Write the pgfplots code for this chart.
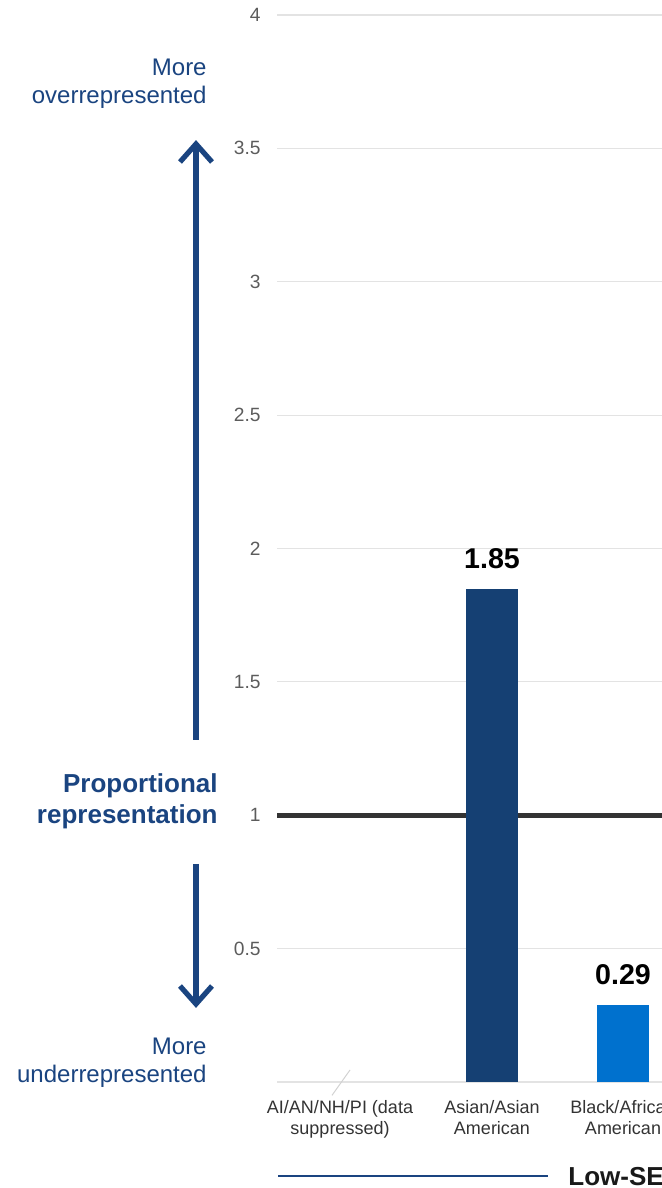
\documentclass[border=0pt]{standalone}
\usepackage{fontspec}
\setmainfont{Liberation Sans}
\usepackage{pgfplots}
\pgfplotsset{compat=1.18}

\definecolor{navy}{HTML}{154073}
\definecolor{brightblue}{HTML}{0071CE}
\definecolor{annot}{HTML}{1A4480}
\definecolor{tickgray}{HTML}{5C5C5C}
\definecolor{labgray}{HTML}{333333}
\definecolor{gridgray}{HTML}{E3E3E3}
\definecolor{refline}{HTML}{333333}

\begin{document}
\begin{tikzpicture}
% frame: 331pt x 594pt
\useasboundingbox (0,0) rectangle (331pt,594pt);
\clip (0,0) rectangle (331pt,594pt);

\begin{axis}[
  at={(138.5pt,53pt)}, anchor=south west,
  scale only axis,
  width=500pt, height=533.5pt,
  xmin=277, xmax=1277,
  ymin=0, ymax=4,
  clip=false,
  axis line style={draw=none},
  major tick length=0pt,
  ymajorgrids,
  grid style={gridgray, line width=0.6pt},
  ytick={0,0.5,1.5,2,2.5,3,3.5,4},
  yticklabels={,0.5,1.5,2,2.5,3,3.5,4},
  extra y ticks={1},
  extra y tick labels={1},
  extra y tick style={grid style={refline, line width=2.3pt}},
  yticklabel style={font=\fontsize{9.6}{11}\selectfont, text=tickgray, inner sep=0pt, anchor=east, xshift=-8pt},
  xtick={340,492,623},
  xticklabels={AI/AN/NH/PI (data\\suppressed), Asian/Asian\\American, Black/African\\American},
  xticklabel style={font=\fontsize{9}{10.5}\selectfont, text=labgray, align=center, inner sep=0pt, anchor=north, yshift=-9pt},
  ybar, bar width=26pt,
  nodes near coords,
  nodes near coords style={font=\bfseries\fontsize{14.3}{16}\selectfont, text=black, anchor=center, yshift=15pt,
    /pgf/number format/.cd, fixed, zerofill, precision=2, assume math mode=true},
]
\addplot[fill=navy, draw=none, bar shift=0pt] coordinates {(492,1.85)};
\addplot[fill=brightblue, draw=none, bar shift=0pt] coordinates {(623,0.29)};
% data suppressed marker
\draw[gray!35, line width=0.5pt] (axis cs:350,0.045) -- (axis cs:332,-0.05);
\end{axis}

% direction arrows
\draw[annot, line width=2.6pt] (98pt,224pt) -- (98pt,522pt);
\draw[annot, line width=2.6pt, line join=miter] (90pt,513pt) -- (98pt,522pt) -- (106pt,513pt);
\draw[annot, line width=2.6pt] (98pt,162pt) -- (98pt,92pt);
\draw[annot, line width=2.6pt, line join=miter] (90pt,101pt) -- (98pt,92pt) -- (106pt,101pt);

% annotations
\node[anchor=east, align=right, inner sep=0pt, text=annot, font=\fontsize{12}{14}\selectfont] at (103.5pt,552pt) {More\\overrepresented};
\node[anchor=east, align=right, inner sep=0pt, text=annot, font=\bfseries\fontsize{13}{15.5}\selectfont] at (109pt,193.5pt) {Proportional\\representation};
\node[anchor=east, align=right, inner sep=0pt, text=annot, font=\fontsize{12}{14}\selectfont] at (103.5pt,62.5pt) {More\\underrepresented};

% group bracket
\draw[annot, line width=1pt] (139pt,6pt) -- (274pt,6pt);
\node[anchor=west, inner sep=0pt, font=\bfseries\fontsize{13}{15}\selectfont, text=black!90] at (284pt,6pt) {Low-SES schools};
\end{tikzpicture}
\end{document}
